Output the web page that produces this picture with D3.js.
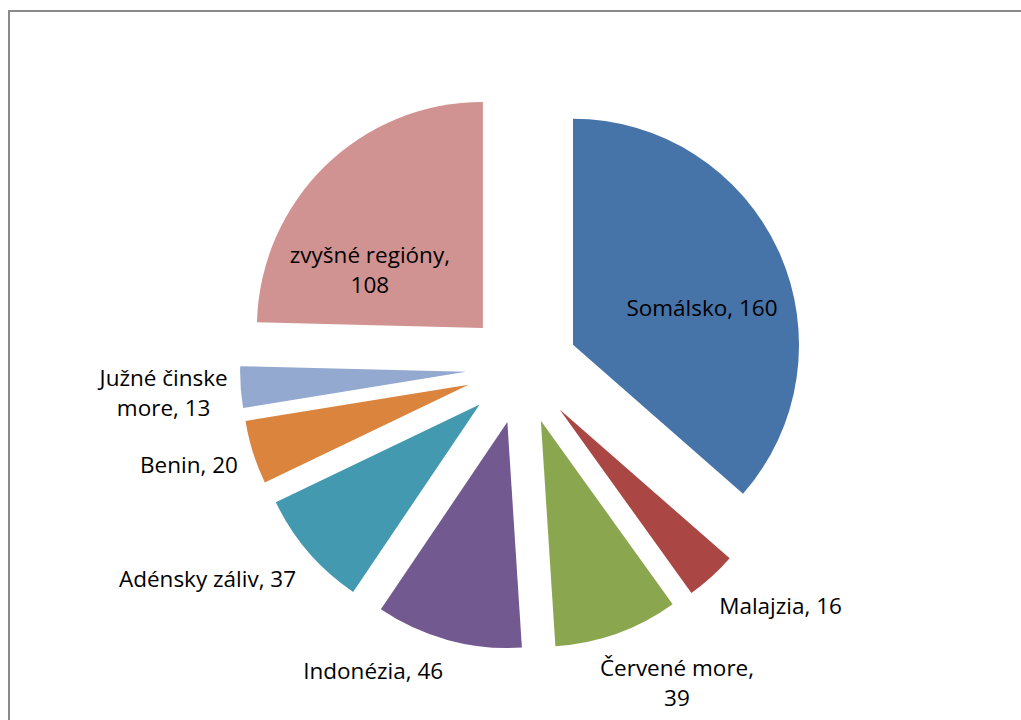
<!DOCTYPE html>
<html><head><meta charset="utf-8">
<script src="https://cdn.jsdelivr.net/npm/d3@7"></script>
<style>html,body{margin:0;padding:0;background:#fff;}svg{display:block;}</style>
</head><body>
<svg id="chart" width="1021" height="720"></svg>
<script>
const categories = ["Somálsko","Malajzia","Červené more","Indonézia","Adénsky záliv","Benin","Južné činske more","zvyšné regióny"];
const values = [160,16,39,46,37,20,13,108];
const labelLines = [["Somálsko, 160"],["Malajzia, 16"],["Červené more,","39"],["Indonézia, 46"],["Adénsky záliv, 37"],["Benin, 20"],["Južné činske","more, 13"],["zvyšné regióny,","108"]];
const colors = ["#4673A8","#AA4744","#8AA64F","#72598F","#4299B0","#DB843D","#93A9CF","#D19392"];

// layout (not data)
const cx = 522, cy = 368, R = 226, explode = 56;
const inside = [true,false,false,false,false,false,false,true];
const nudge = [[129,-37],[69,29],[60,50],[-75,31],[-101,27],[-64,13],[-77,6],[-113,-58]];
const fontSize = 22.5, lineH = 30;

const svg = d3.select("#chart");
svg.append("rect").attr("x",9).attr("y",11).attr("width",1200).attr("height",900)
  .attr("fill","none").attr("stroke","#8a8a8a").attr("stroke-width",2);

const pie = d3.pie().sort(null).value(d=>d)(values);
const arc = d3.arc().innerRadius(0).outerRadius(R);
const g = svg.append("g").attr("transform",`translate(${cx},${cy})`);

pie.forEach((p,i)=>{
  const a = (p.startAngle+p.endAngle)/2;
  const dx = Math.sin(a), dy = -Math.cos(a);
  const vx = dx*explode, vy = dy*explode;
  g.append("path").attr("d",arc(p)).attr("fill",colors[i])
    .attr("transform",`translate(${vx},${vy})`);
  let bx, by;
  if (inside[i]) { bx = vx; by = vy; }
  else { bx = vx + dx*R; by = vy + dy*R; }
  const lx = bx + nudge[i][0], ly = by + nudge[i][1];
  const lines = labelLines[i];
  const t = g.append("text").attr("text-anchor","middle")
    .attr("font-family","'Open Sans', Lato, sans-serif").attr("font-size",fontSize).attr("fill","#000");
  lines.forEach((s,k)=>{
    t.append("tspan").attr("x",lx).attr("y",ly + (k-(lines.length-1)/2)*lineH)
      .attr("dy","0.35em").text(s);
  });
});
</script>
</body></html>
